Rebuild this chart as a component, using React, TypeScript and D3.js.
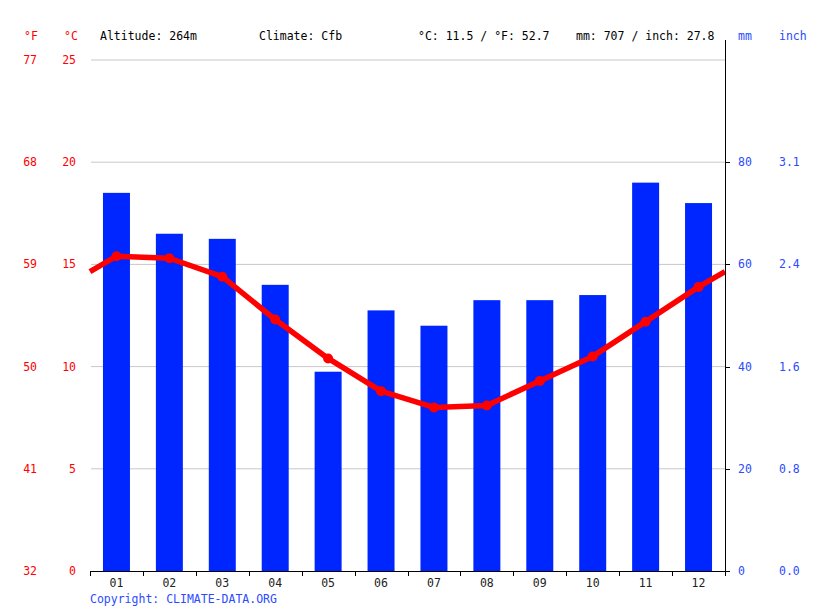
import { useEffect, useRef } from 'react'
import * as d3 from 'd3'

const WIDTH = 815
const HEIGHT = 611
const PLOT = { left: 90, right: 725, top: 60, bottom: 571 }
const FONT = '"DejaVu Sans Mono", monospace'
const RED = '#ff0000'
const BLUE = '#0026ff'
const LABEL_BLUE = '#2b4bff'

const months = ['01', '02', '03', '04', '05', '06', '07', '08', '09', '10', '11', '12']
const precipMm = [74, 66, 65, 56, 39, 51, 48, 53, 53, 54, 76, 72]
const tempC = [15.4, 15.3, 14.4, 12.3, 10.4, 8.8, 8.0, 8.1, 9.3, 10.5, 12.2, 13.9]

const tempTicks = [0, 5, 10, 15, 20, 25]
const fahrenheitLabels = ['32', '41', '50', '59', '68', '77']
const mmTicks = [0, 20, 40, 60, 80]
const inchLabels = ['0.0', '0.8', '1.6', '2.4', '3.1']

export default function App() {
  const svgRef = useRef<SVGSVGElement>(null)

  useEffect(() => {
    const svgEl = svgRef.current
    if (!svgEl) return
    const svg = d3.select(svgEl)
    svg.selectAll('*').remove()

    // ── Scales ────────────────────────────────────────────────────────────────
    const x = d3.scaleBand<string>(months, [PLOT.left, PLOT.right])
    const yT = d3.scaleLinear([0, 25], [PLOT.bottom, PLOT.top])
    const yP = d3.scaleLinear([0, 100], [PLOT.bottom, PLOT.top])
    const barW = x.bandwidth() * 0.51
    const cx = (m: string) => (x(m) ?? 0) + x.bandwidth() / 2

    // ── Grid ──────────────────────────────────────────────────────────────────
    tempTicks.filter(t => t > 0).forEach(t => {
      svg.append('line')
        .attr('x1', PLOT.left + 1).attr('x2', PLOT.right)
        .attr('y1', yT(t)).attr('y2', yT(t))
        .attr('stroke', '#c8c8c8').attr('stroke-width', 1)
    })

    // ── Precipitation bars ────────────────────────────────────────────────────
    svg.append('g')
      .selectAll('rect')
      .data(precipMm)
      .join('rect')
      .attr('x', (_, i) => cx(months[i]) - barW / 2)
      .attr('width', barW)
      .attr('y', d => yP(d))
      .attr('height', d => yP(0) - yP(d))
      .attr('fill', BLUE)

    // ── Temperature line (wraps Dec/Jan at the edges) ─────────────────────────
    const edge = (tempC[0] + tempC[11]) / 2
    const pts: [number, number][] = [
      [PLOT.left, yT(edge)],
      ...tempC.map((t, i) => [cx(months[i]), yT(t)] as [number, number]),
      [PLOT.right, yT(edge)],
    ]
    svg.append('path')
      .attr('d', d3.line()(pts) ?? '')
      .attr('fill', 'none').attr('stroke', RED)
      .attr('stroke-width', 5.5).attr('stroke-linejoin', 'round')

    svg.append('g')
      .selectAll('circle')
      .data(tempC)
      .join('circle')
      .attr('cx', (_, i) => cx(months[i]))
      .attr('cy', d => yT(d))
      .attr('r', 5)
      .attr('fill', RED)

    // ── Bottom axis ───────────────────────────────────────────────────────────
    svg.append('line')
      .attr('x1', PLOT.left).attr('x2', PLOT.right + 4)
      .attr('y1', PLOT.bottom + 0.5).attr('y2', PLOT.bottom + 0.5)
      .attr('stroke', '#000')
    d3.range(months.length + 1).forEach(i => {
      const tx = Math.round(PLOT.left + i * x.step()) + 0.5
      svg.append('line')
        .attr('x1', tx).attr('x2', tx)
        .attr('y1', PLOT.bottom).attr('y2', PLOT.bottom + 5)
        .attr('stroke', '#000')
    })
    months.forEach(m => {
      svg.append('text')
        .attr('x', cx(m)).attr('y', 587)
        .attr('text-anchor', 'middle').attr('font-size', 11.5)
        .attr('font-family', FONT).attr('fill', '#222')
        .text(m)
    })

    // ── Right axis ────────────────────────────────────────────────────────────
    svg.append('line')
      .attr('x1', PLOT.right + 0.5).attr('x2', PLOT.right + 0.5)
      .attr('y1', 40).attr('y2', PLOT.bottom + 1)
      .attr('stroke', '#000')
    mmTicks.forEach((t, i) => {
      const ty = Math.round(yP(t)) + 0.5
      svg.append('line')
        .attr('x1', PLOT.right).attr('x2', PLOT.right + 5)
        .attr('y1', ty).attr('y2', ty)
        .attr('stroke', '#000')
      svg.append('text')
        .attr('x', 738).attr('y', yP(t)).attr('dy', '0.35em')
        .attr('font-size', 11.5).attr('font-family', FONT).attr('fill', LABEL_BLUE)
        .text(t)
      svg.append('text')
        .attr('x', 779).attr('y', yP(t)).attr('dy', '0.35em')
        .attr('font-size', 11.5).attr('font-family', FONT).attr('fill', LABEL_BLUE)
        .text(inchLabels[i])
    })

    // ── Left labels (°F / °C) ─────────────────────────────────────────────────
    tempTicks.forEach((t, i) => {
      svg.append('text')
        .attr('x', 37).attr('y', yT(t)).attr('dy', '0.35em')
        .attr('text-anchor', 'end').attr('font-size', 11.5)
        .attr('font-family', FONT).attr('fill', RED)
        .text(fahrenheitLabels[i])
      svg.append('text')
        .attr('x', 76).attr('y', yT(t)).attr('dy', '0.35em')
        .attr('text-anchor', 'end').attr('font-size', 11.5)
        .attr('font-family', FONT).attr('fill', RED)
        .text(t)
    })

    // ── Header ────────────────────────────────────────────────────────────────
    const header: [number, string, string][] = [
      [24, '°F', RED],
      [64, '°C', RED],
      [100, 'Altitude: 264m', '#000'],
      [259, 'Climate: Cfb', '#000'],
      [418, '°C: 11.5 / °F: 52.7', '#000'],
      [576, 'mm: 707 / inch: 27.8', '#000'],
      [738, 'mm', LABEL_BLUE],
      [779, 'inch', LABEL_BLUE],
    ]
    header.forEach(([hx, label, color]) => {
      svg.append('text')
        .attr('x', hx).attr('y', 40)
        .attr('font-size', 11.5).attr('font-family', FONT).attr('fill', color)
        .text(label)
    })

    svg.append('text')
      .attr('x', 90).attr('y', 603)
      .attr('font-size', 11.5).attr('font-family', FONT).attr('fill', LABEL_BLUE)
      .text('Copyright: CLIMATE-DATA.ORG')
  }, [])

  return (
    <div style={{ position: 'absolute', left: 0, top: 0 }}>
      <svg ref={svgRef} width={WIDTH} height={HEIGHT} style={{ display: 'block', background: '#fff' }} />
    </div>
  )
}
